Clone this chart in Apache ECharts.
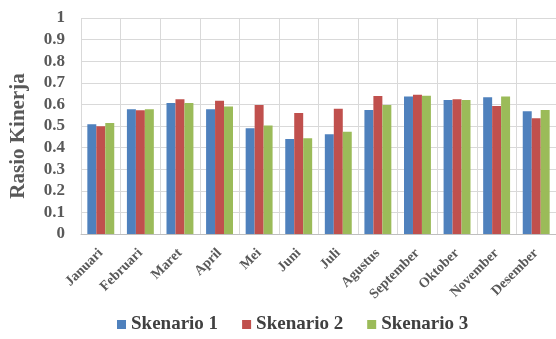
<!DOCTYPE html>
<html>
<head>
<meta charset="utf-8">
<script src="https://cdn.jsdelivr.net/npm/echarts@6/dist/echarts.min.js"></script>
<style>
  html, body { margin: 0; padding: 0; background: #fff; }
  #main { width: 556px; height: 339px; }
</style>
</head>
<body>
<div id="main"></div>
<script>
  const months = ['Januari', 'Februari', 'Maret', 'April', 'Mei', 'Juni', 'Juli', 'Agustus', 'September', 'Oktober', 'November', 'Desember']
  const skenario1 = [0.508, 0.577, 0.607, 0.577, 0.490, 0.440, 0.462, 0.574, 0.636, 0.620, 0.633, 0.568]
  const skenario2 = [0.499, 0.573, 0.624, 0.617, 0.597, 0.560, 0.580, 0.639, 0.645, 0.624, 0.593, 0.536]
  const skenario3 = [0.514, 0.577, 0.607, 0.590, 0.502, 0.443, 0.473, 0.597, 0.640, 0.620, 0.636, 0.574]
  const names = ['Skenario 1', 'Skenario 2', 'Skenario 3']
  const yTicks = [0, 0.1, 0.2, 0.3, 0.4, 0.5, 0.6, 0.7, 0.8, 0.9, 1]

  const font = 'Liberation Serif'
  const chart = echarts.init(document.getElementById('main'))

  const bar = (name, data, color) => ({
    name: name,
    type: 'bar',
    data: data,
    barGap: '0%',
    barCategoryGap: '32%',
    itemStyle: { color: color }
  })

  chart.setOption({
    animation: false,
    textStyle: { fontFamily: font },
    grid: { left: 79, right: 0, top: 18, bottom: 105 },
    legend: {
      bottom: 0,
      left: 112,
      itemWidth: 9,
      itemHeight: 9,
      itemGap: 24,
      icon: 'rect',
      textStyle: { fontFamily: font, fontWeight: 'bold', fontSize: 19, color: '#404040' },
      data: names
    },
    xAxis: {
      type: 'category',
      data: months,
      axisLine: { lineStyle: { color: '#bfbfbf' } },
      axisTick: { show: false },
      splitLine: { show: true, lineStyle: { color: '#d9d9d9' } },
      axisLabel: {
        rotate: 45,
        interval: 0,
        margin: 17,
        fontFamily: font,
        fontWeight: 'bold',
        fontSize: 14,
        color: '#595959'
      }
    },
    yAxis: {
      type: 'value',
      min: 0,
      max: 1,
      interval: 0.1,
      name: 'Rasio Kinerja',
      nameLocation: 'middle',
      nameGap: 52,
      nameTextStyle: { fontFamily: font, fontWeight: 'bold', fontSize: 21, color: '#595959', padding: [0, 20, 0, 0] },
      axisLine: { show: false },
      axisTick: { show: false },
      splitLine: { lineStyle: { color: '#d9d9d9' } },
      axisLabel: {
        margin: 16,
        fontFamily: font,
        fontWeight: 'bold',
        fontSize: 17,
        color: '#595959',
        formatter: v => String(yTicks.find(t => Math.abs(t - v) < 1e-9) ?? v)
      }
    },
    series: [
      bar(names[0], skenario1, '#4f81bd'),
      bar(names[1], skenario2, '#c0504d'),
      bar(names[2], skenario3, '#9bbb59')
    ]
  })
</script>
</body>
</html>
